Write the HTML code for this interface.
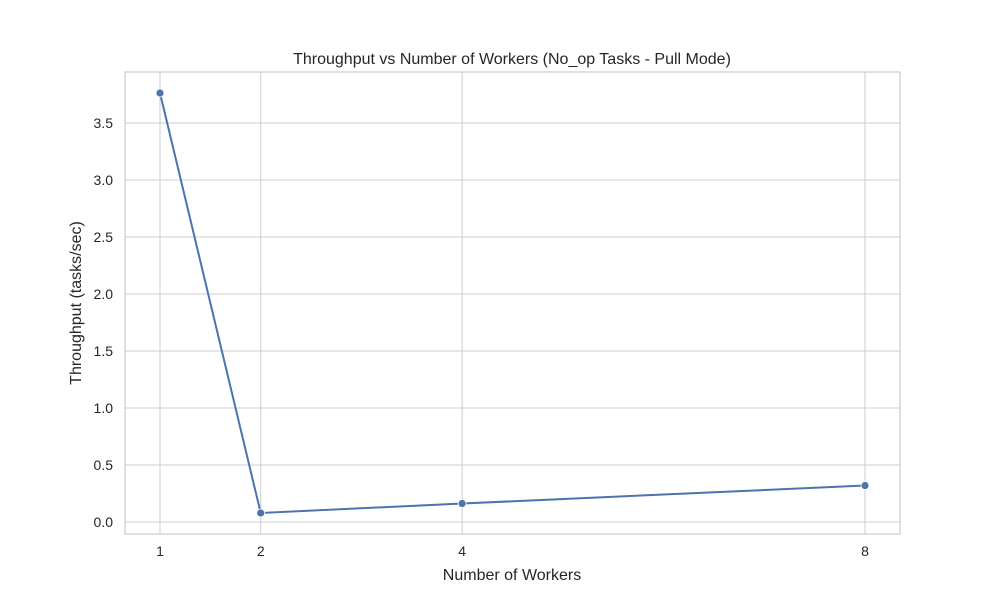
<!DOCTYPE html>
<html><head><meta charset="utf-8"><style>
body{margin:0;background:#fff;font-family:"Liberation Sans","DejaVu Sans",sans-serif;}
</style></head><body>
<svg id="chart" width="1000" height="600" xmlns="http://www.w3.org/2000/svg" font-family="Liberation Sans, DejaVu Sans, sans-serif"></svg>
<script>
const workers = [1, 2, 4, 8];
const throughput = [3.763, 0.079, 0.162, 0.32];
const xTicks = [1, 2, 4, 8];
const yTicks = [0.0, 0.5, 1.0, 1.5, 2.0, 2.5, 3.0, 3.5];
const yTickLabels = ["0.0","0.5","1.0","1.5","2.0","2.5","3.0","3.5"];

const L=125,R=900,T=72,B=534;
const sx=v=>160+(v-1)*(865-160)/7;
const sy=v=>522-v*114;
const svg=document.getElementById('chart');
const NS='http://www.w3.org/2000/svg';
function mk(tag,attrs,parent){const e=document.createElementNS(NS,tag);for(const k in attrs)e.setAttribute(k,attrs[k]);(parent||svg).appendChild(e);return e;}

const grid=mk('g',{});


yTicks.forEach((v,i)=>{
  const y=sy(v);
  const l=mk('line',{x1:L,x2:R,y1:y,y2:y,stroke:'#cccccc','stroke-width':1},grid);
  
  
  const t=mk('text',{x:L-12,y:y+5,'text-anchor':'end','font-size':14,fill:'#262626'});
  t.textContent=yTickLabels[i];
  
  
});
xTicks.forEach(v=>{
  const x=sx(v);
  const l=mk('line',{x1:x,x2:x,y1:T,y2:B,stroke:'#cccccc','stroke-width':1},grid);
  
  
  const t=mk('text',{x:x,y:B+22,'text-anchor':'middle','font-size':14,fill:'#262626'});
  t.textContent=String(v);
  
  
});
const frame=mk('rect',{x:L,y:T,width:R-L,height:B-T,fill:'none',stroke:'#cccccc','stroke-width':1.2});



const pts=workers.map((w,i)=>sx(w)+','+sy(throughput[i])).join(' ');
const line=mk('polyline',{points:pts,fill:'none',stroke:'#4c72b0','stroke-width':2});


workers.forEach((w,i)=>{
  const c=mk('circle',{cx:sx(w),cy:sy(throughput[i]),r:4,fill:'#4c72b0',stroke:'#fff','stroke-width':0.8});
  
  
});

const title=mk('text',{x:512,y:64,'text-anchor':'middle','font-size':16,fill:'#262626'});
title.textContent='Throughput vs Number of Workers (No_op Tasks - Pull Mode)';


const xt=mk('text',{x:512,y:580,'text-anchor':'middle','font-size':16,fill:'#262626'});
xt.textContent='Number of Workers';


const yt=mk('text',{x:81,y:303,'text-anchor':'middle','font-size':16,fill:'#262626',transform:'rotate(-90 81 303)'});
yt.textContent='Throughput (tasks/sec)';


</script>
</body></html>
